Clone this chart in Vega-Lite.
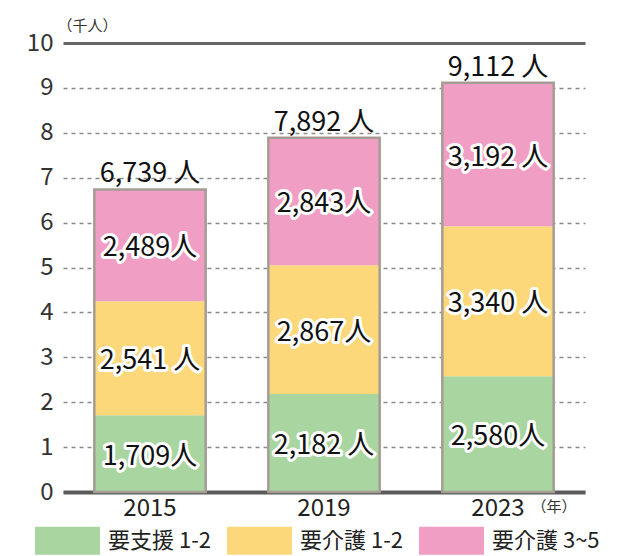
{
  "$schema": "https://vega.github.io/schema/vega-lite/v6.json",
  "width": 522,
  "height": 449,
  "autosize": "none",
  "padding": {"left": 63, "top": 43, "right": 55, "bottom": 64},
  "background": "white",
  "config": {
    "view": {"stroke": null},
    "font": "Noto Sans CJK JP",
    "axis": {"labelFont": "Noto Sans CJK JP"},
    "legend": {"labelFont": "Noto Sans CJK JP"}
  },
  "datasets": {
    "seg": [
      {"year": "2015", "cat": "要支援 1-2", "k": 1, "v": 1.709, "label": "1,709人"},
      {"year": "2015", "cat": "要介護 1-2", "k": 2, "v": 2.541, "label": "2,541 人"},
      {"year": "2015", "cat": "要介護 3~5", "k": 3, "v": 2.489, "label": "2,489人"},
      {"year": "2019", "cat": "要支援 1-2", "k": 1, "v": 2.182, "label": "2,182 人"},
      {"year": "2019", "cat": "要介護 1-2", "k": 2, "v": 2.867, "label": "2,867人"},
      {"year": "2019", "cat": "要介護 3~5", "k": 3, "v": 2.843, "label": "2,843人"},
      {"year": "2023", "cat": "要支援 1-2", "k": 1, "v": 2.580, "label": "2,580人"},
      {"year": "2023", "cat": "要介護 1-2", "k": 2, "v": 3.340, "label": "3,340 人"},
      {"year": "2023", "cat": "要介護 3~5", "k": 3, "v": 3.192, "label": "3,192 人"}
    ],
    "tot": [
      {"year": "2015", "v": 6.739, "label": "6,739 人"},
      {"year": "2019", "v": 7.892, "label": "7,892 人"},
      {"year": "2023", "v": 9.112, "label": "9,112 人"}
    ]
  },
  "encoding": {
    "x": {
      "field": "year", "type": "nominal",
      "scale": {"paddingInner": 0.36, "paddingOuter": 0.18},
      "axis": {
        "labelAngle": 0, "labelFontSize": 24, "labelColor": "#222", "labelPadding": 4,
        "ticks": false, "domainColor": "#5a5a5a", "domainWidth": 4,
        "title": "（年）", "titleFont": "Noto Sans CJK JP", "titleFontSize": 15, "titleFontWeight": "normal",
        "titleColor": "#333", "titleAnchor": "start", "titleX": 468, "titleY": 7, "titleBaseline": "top", "titleAlign": "left"
      }
    }
  },
  "layer": [
    {
      "data": {"name": "seg"},
      "mark": {"type": "bar"},
      "encoding": {
        "y": {
          "field": "v", "type": "quantitative", "stack": "zero",
          "scale": {"domain": [0, 10], "nice": false},
          "axis": {
            "values": [0,1,2,3,4,5,6,7,8,9,10],
            "labelFontSize": 24, "labelColor": "#333", "labelPadding": 10,
            "ticks": false, "domain": false,
            "grid": true,
            "gridColor": {"condition": {"test": "datum.value == 10", "value": "#666"}, "value": "#8a8a8a"},
            "gridWidth": {"condition": {"test": "datum.value == 10", "value": 3}, "value": 1.5},
            "gridDash": {"condition": {"test": "datum.value == 10", "value": []}, "value": [4, 4]},
            "title": "（千人）", "titleFont": "Noto Sans CJK JP", "titleFontSize": 15, "titleFontWeight": "normal",
            "titleColor": "#333", "titleAngle": 0, "titleX": -6, "titleY": -18, "titleAlign": "left", "titleBaseline": "middle"
          }
        },
        "color": {
          "field": "cat", "type": "nominal",
          "scale": {"domain": ["要支援 1-2", "要介護 1-2", "要介護 3~5"], "range": ["#a8d5a0", "#fcd87a", "#f19ec4"]},
          "legend": {
            "title": null, "orient": "none", "direction": "horizontal", "columns": 3,
            "legendX": -28, "legendY": 465,
            "symbolType": "M-1,-0.43H1V0.43H-1Z", "symbolSize": 4225, "symbolStrokeWidth": 0,
            "symbolOpacity": 1,
            "labelFontSize": 22, "labelColor": "#222", "labelOffset": 8, "columnPadding": 16
          }
        },
        "order": {"field": "k", "type": "quantitative"}
      }
    },
    {
      "data": {"name": "tot"},
      "mark": {"type": "bar", "fillOpacity": 0, "stroke": "#a59d94", "strokeWidth": 2.5},
      "encoding": {
        "y": {"field": "v", "type": "quantitative"}
      }
    },
    {
      "data": {"name": "seg"},
      "mark": {"type": "text", "fontSize": 27, "stroke": "white", "strokeWidth": 6, "strokeJoin": "round", "fill": "white", "baseline": "middle", "dy": 3},
      "encoding": {
        "y": {"field": "v", "type": "quantitative", "stack": "zero", "bandPosition": 0.5},
        "text": {"field": "label"},
        "order": {"field": "k", "type": "quantitative"},
        "detail": {"field": "cat"}
      }
    },
    {
      "data": {"name": "seg"},
      "mark": {"type": "text", "fontSize": 27, "fill": "#111", "baseline": "middle", "dy": 3},
      "encoding": {
        "y": {"field": "v", "type": "quantitative", "stack": "zero", "bandPosition": 0.5},
        "text": {"field": "label"},
        "order": {"field": "k", "type": "quantitative"},
        "detail": {"field": "cat"}
      }
    },
    {
      "data": {"name": "tot"},
      "mark": {"type": "text", "fontSize": 27, "fill": "#111", "baseline": "alphabetic", "dy": -7},
      "encoding": {
        "y": {"field": "v", "type": "quantitative"},
        "text": {"field": "label"}
      }
    }
  ]
}
